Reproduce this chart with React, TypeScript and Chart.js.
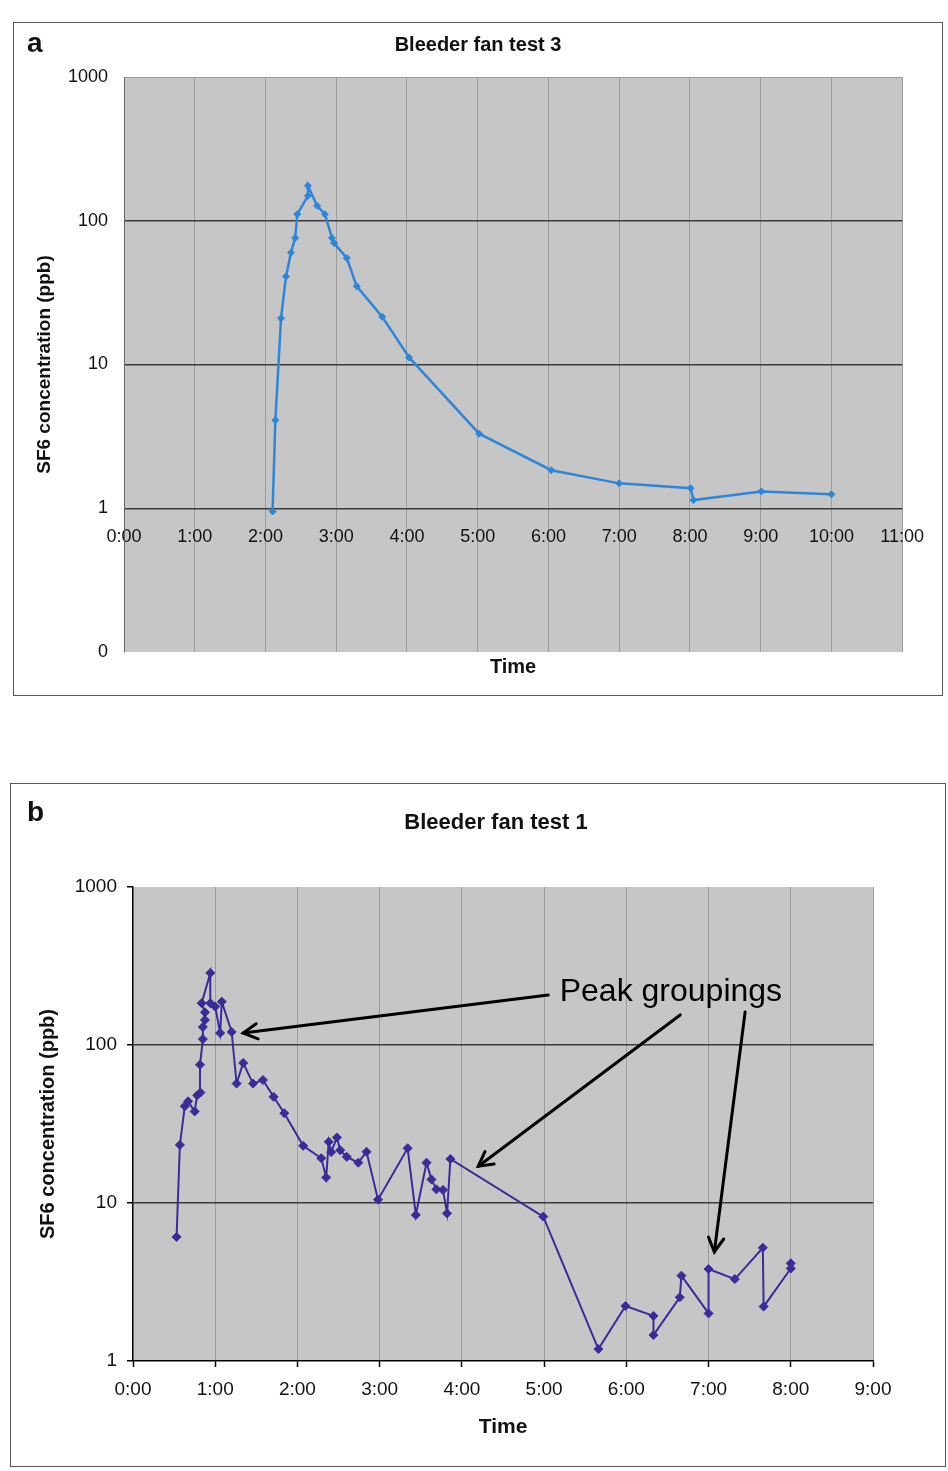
import React, { useEffect, useRef } from 'react';
import { Chart, registerables } from 'chart.js';

Chart.register(...registerables);

if (typeof document !== 'undefined') {
  document.documentElement.style.margin = '0';
  document.body.style.margin = '0';
  document.body.style.overflow = 'hidden';
}

const FONT = '"Liberation Sans", Arial, Helvetica, sans-serif';

// ---- Panel a: Bleeder fan test 3 (time in hours, SF6 in ppb) ----
const titleA = 'Bleeder fan test 3';
const timesA = [2.10, 2.14, 2.22, 2.29, 2.36, 2.42, 2.45, 2.60, 2.60, 2.73, 2.84, 2.94, 2.97, 3.15, 3.29, 3.65, 4.03, 5.02, 6.04, 7.00, 8.01, 8.05, 9.01, 10.00];
const valuesA = [0.95, 4.1, 21, 41, 60, 76, 111, 149, 175, 127, 111, 76, 70, 55, 35, 21.5, 11.2, 3.3, 1.84, 1.49, 1.38, 1.14, 1.31, 1.25];
const yTicksA = [0.1, 1, 10, 100, 1000];
const xMaxA = 11;

// ---- Panel b: Bleeder fan test 1 ----
const titleB = 'Bleeder fan test 1';
const timesB = [0.53, 0.57, 0.63, 0.67, 0.75, 0.78, 0.82, 0.815, 0.85, 0.85, 0.875, 0.875, 0.835, 0.94, 0.94, 1.00, 1.06, 1.08, 1.20, 1.26, 1.34, 1.46, 1.58, 1.71, 1.84, 2.07, 2.29, 2.35, 2.38, 2.41, 2.48, 2.52, 2.60, 2.74, 2.84, 2.98, 3.34, 3.44, 3.57, 3.63, 3.69, 3.77, 3.82, 3.86, 4.99, 5.66, 5.99, 6.33, 6.33, 6.65, 6.67, 7.00, 7.00, 7.32, 7.66, 7.67, 8.00, 8.00];
const valuesB = [6.1, 23.3, 41, 44, 38, 48, 50, 75, 109, 130, 144, 161, 184, 286, 184, 175, 119, 188, 121, 57, 77, 57, 60, 47, 37, 23, 19.2, 14.5, 24.4, 21, 26, 21.6, 19.6, 18, 21.1, 10.5, 22.2, 8.4, 18, 14.1, 12.2, 12.1, 8.6, 19, 8.2, 1.19, 2.23, 1.93, 1.46, 2.53, 3.47, 2.0, 3.82, 3.30, 5.21, 2.21, 3.85, 4.15];
const yTicksB = [1, 10, 100, 1000];
const xMaxB = 9;

// annotation (in data coordinates of panel b)
const noteText = 'Peak groupings';
const notePos = [5.19, 216];
const arrowTails = [[5.05, 207], [6.655, 155], [7.445, 162]];
const arrowTips = [[1.34, 119], [4.2, 17.1], [7.07, 4.9]];

const yTitle = 'SF6 concentration (ppb)';
const xTitle = 'Time';

const BLUE_A = '#2f86d8';
const BLUE_B = '#392c98';
const PLOT_BG = '#c6c6c6';
const VGRID = '#9c9c9c';
const HGRID = '#3a3a3a';

const bgPlugin = {
  id: 'plotBg',
  beforeDraw(chart: any) {
    const { ctx, chartArea: a } = chart;
    ctx.save();
    ctx.fillStyle = PLOT_BG;
    ctx.fillRect(a.left, a.top, a.right - a.left, a.bottom - a.top);
    ctx.restore();
  },
};

const notePlugin = {
  id: 'notes',
  afterDatasetsDraw(chart: any) {
    const { ctx, scales } = chart;
    const sx = scales.x;
    const sy = scales.y;
    ctx.save();
    ctx.strokeStyle = '#000';
    ctx.fillStyle = '#000';
    ctx.lineWidth = 3;
    ctx.lineCap = 'round';
    arrowTails.forEach((t, i) => {
      const x1 = sx.getPixelForValue(t[0]);
      const y1 = sy.getPixelForValue(t[1]);
      const x2 = sx.getPixelForValue(arrowTips[i][0]);
      const y2 = sy.getPixelForValue(arrowTips[i][1]);
      const ang = Math.atan2(y2 - y1, x2 - x1);
      ctx.beginPath();
      ctx.moveTo(x1, y1);
      ctx.lineTo(x2, y2);
      ctx.stroke();
      const L = 16;
      const spread = 0.5;
      ctx.beginPath();
      ctx.moveTo(x2 - L * Math.cos(ang - spread), y2 - L * Math.sin(ang - spread));
      ctx.lineTo(x2, y2);
      ctx.lineTo(x2 - L * Math.cos(ang + spread), y2 - L * Math.sin(ang + spread));
      ctx.stroke();
    });
    ctx.font = `32px ${FONT}`;
    ctx.textAlign = 'left';
    ctx.textBaseline = 'middle';
    ctx.fillText(noteText, sx.getPixelForValue(notePos[0]), sy.getPixelForValue(notePos[1]));
    ctx.restore();
  },
};

function hourLabel(v: any) {
  return `${v}:00`;
}

function makeChartA(canvas: HTMLCanvasElement) {
  return new Chart(canvas, {
    type: 'scatter',
    data: {
      datasets: [
        {
          data: timesA.map((t, i) => ({ x: t, y: valuesA[i] })),
          showLine: true,
          borderColor: BLUE_A,
          backgroundColor: BLUE_A,
          borderWidth: 2.5,
          pointStyle: 'rectRot',
          pointRadius: 3.5,
          pointBorderWidth: 1,
          xAxisID: 'x',
          yAxisID: 'y',
        },
      ],
    },
    options: {
      responsive: false,
      animation: false,
      devicePixelRatio: 1,
      layout: { padding: 0 },
      plugins: {
        legend: { display: false },
        tooltip: { enabled: false },
        title: {
          display: true,
          text: titleA,
          color: '#111',
          font: { family: FONT, size: 20, weight: 'bold' },
          padding: { top: 10, bottom: 20 },
        },
      },
      scales: {
        x: {
          type: 'linear',
          position: { y: 1 },
          min: 0,
          max: xMaxA,
          ticks: {
            stepSize: 1,
            callback: hourLabel,
            color: '#111',
            font: { family: FONT, size: 18 },
            padding: 18,
            maxRotation: 0,
            autoSkip: false,
          },
          grid: {
            color: (c: any) => (c.tick && c.tick.value === 0 ? 'rgba(0,0,0,0)' : VGRID),
            lineWidth: 1,
            drawTicks: false,
          },
          border: { display: false },
        },
        xt: {
          type: 'linear',
          position: 'bottom',
          min: 0,
          max: xMaxA,
          ticks: { display: false },
          grid: { display: false },
          border: { display: false },
          title: {
            display: true,
            text: xTitle,
            color: '#111',
            font: { family: FONT, size: 20, weight: 'bold' },
            padding: { top: 0, bottom: 16 },
          },
          afterFit: (s: any) => {
            s.height = 43;
          },
        },
        y: {
          type: 'logarithmic',
          position: 'left',
          min: 0.1,
          max: 1000,
          afterBuildTicks: (s: any) => {
            s.ticks = yTicksA.map((v) => ({ value: v }));
          },
          ticks: {
            callback: (v: any) => (v < 1 ? '0' : String(v)),
            color: '#111',
            font: { family: FONT, size: 18 },
            padding: 16,
            autoSkip: false,
          },
          grid: {
            color: (c: any) => {
              const v = c.tick && c.tick.value;
              if (v === 1 || v === 10 || v === 100) return HGRID;
              if (v === 1000) return VGRID;
              return 'rgba(0,0,0,0)';
            },
            lineWidth: (c: any) => (c.tick && c.tick.value === 1000 ? 1 : 1.5),
            drawTicks: false,
          },
          border: { color: '#666', width: 1 },
          title: {
            display: true,
            text: yTitle,
            color: '#111',
            font: { family: FONT, size: 19, weight: 'bold' },
            padding: { top: 19.6, bottom: 0 },
          },
          afterFit: (s: any) => {
            s.width = 110;
          },
        },
        yr: {
          type: 'linear',
          position: 'right',
          ticks: { display: false },
          grid: { display: false },
          border: { display: false },
          afterFit: (s: any) => {
            s.width = 37;
          },
        },
      },
    } as any,
    plugins: [bgPlugin],
  });
}

function makeChartB(canvas: HTMLCanvasElement) {
  return new Chart(canvas, {
    type: 'scatter',
    data: {
      datasets: [
        {
          data: timesB.map((t, i) => ({ x: t, y: valuesB[i] })),
          showLine: true,
          borderColor: BLUE_B,
          backgroundColor: BLUE_B,
          borderWidth: 2,
          pointStyle: 'rectRot',
          pointRadius: 4.5,
          pointBorderWidth: 1,
          xAxisID: 'x',
          yAxisID: 'y',
        },
      ],
    },
    options: {
      responsive: false,
      animation: false,
      devicePixelRatio: 1,
      layout: { padding: 0 },
      plugins: {
        legend: { display: false },
        tooltip: { enabled: false },
        title: {
          display: true,
          text: titleB,
          color: '#111',
          font: { family: FONT, size: 22, weight: 'bold' },
          padding: { top: 25.8, bottom: 50.8 },
        },
      },
      scales: {
        x: {
          type: 'linear',
          position: 'bottom',
          min: 0,
          max: xMaxB,
          ticks: {
            stepSize: 1,
            callback: hourLabel,
            color: '#111',
            font: { family: FONT, size: 19 },
            padding: 11.6,
            maxRotation: 0,
            autoSkip: false,
          },
          grid: {
            color: (c: any) => (c.tick && c.tick.value === 0 ? 'rgba(0,0,0,0)' : VGRID),
            lineWidth: 1,
            tickColor: '#000',
            tickWidth: 1.5,
            tickLength: 6,
          },
          border: { color: '#000', width: 1.5 },
          title: {
            display: true,
            text: xTitle,
            color: '#111',
            font: { family: FONT, size: 21, weight: 'bold' },
            padding: { top: 0, bottom: 26.4 },
          },
          afterFit: (s: any) => {
            s.height = 105;
          },
        },
        y: {
          type: 'logarithmic',
          position: 'left',
          min: 1,
          max: 1000,
          afterBuildTicks: (s: any) => {
            s.ticks = yTicksB.map((v) => ({ value: v }));
          },
          ticks: {
            callback: (v: any) => String(v),
            color: '#111',
            font: { family: FONT, size: 19 },
            padding: 10,
            autoSkip: false,
          },
          grid: {
            color: (c: any) => {
              const v = c.tick && c.tick.value;
              return v === 10 || v === 100 ? HGRID : 'rgba(0,0,0,0)';
            },
            lineWidth: 1.5,
            tickColor: '#000',
            tickWidth: 1.5,
            tickLength: 6,
          },
          border: { color: '#000', width: 1.5 },
          title: {
            display: true,
            text: yTitle,
            color: '#111',
            font: { family: FONT, size: 20, weight: 'bold' },
            padding: { top: 25, bottom: 0 },
          },
          afterFit: (s: any) => {
            s.width = 122;
          },
        },
        yr: {
          type: 'linear',
          position: 'right',
          ticks: { display: false },
          grid: { display: false },
          border: { display: false },
          afterFit: (s: any) => {
            s.width = 108;
          },
        },
      },
    } as any,
    plugins: [bgPlugin, notePlugin],
  });
}

const letterStyle: React.CSSProperties = {
  position: 'absolute',
  fontFamily: FONT,
  fontWeight: 'bold',
  fontSize: 28,
  lineHeight: '28px',
  color: '#111',
};

export default function App() {
  const refA = useRef<HTMLCanvasElement>(null);
  const refB = useRef<HTMLCanvasElement>(null);

  useEffect(() => {
    const a = refA.current ? makeChartA(refA.current) : null;
    const b = refB.current ? makeChartB(refB.current) : null;
    return () => {
      if (a) a.destroy();
      if (b) b.destroy();
    };
  }, []);

  return (
    <div
      style={{
        position: 'relative',
        width: 948,
        height: 1471,
        overflow: 'hidden',
        fontFamily: FONT,
        background: '#fff',
      }}
    >
      <div
        style={{
          position: 'absolute',
          left: 13,
          top: 22,
          width: 930,
          height: 674,
          border: '1px solid #555',
          boxSizing: 'border-box',
          overflow: 'hidden',
          background: '#fff',
        }}
      >
        <canvas ref={refA} width={928} height={672} style={{ display: 'block' }} />
      </div>
      <span style={{ ...letterStyle, left: 27, top: 28.6 }}>a</span>

      <div
        style={{
          position: 'absolute',
          left: 10,
          top: 783,
          width: 936,
          height: 684,
          border: '1px solid #555',
          boxSizing: 'border-box',
          overflow: 'hidden',
          background: '#fff',
        }}
      >
        <canvas ref={refB} width={970} height={682} style={{ display: 'block' }} />
      </div>
      <span style={{ ...letterStyle, left: 27, top: 798.4 }}>b</span>
    </div>
  );
}
